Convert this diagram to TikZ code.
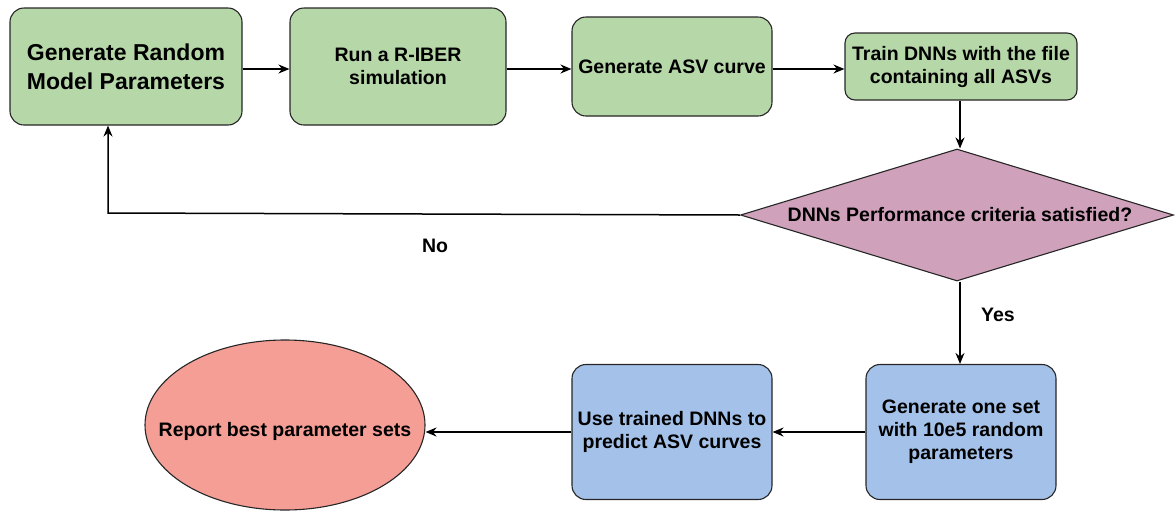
\documentclass[tikz,border=0pt]{standalone}
\usepackage{fontspec}
\setmainfont{Liberation Sans}
\usetikzlibrary{shapes.geometric,arrows.meta}
\definecolor{gfill}{RGB}{182,215,168}
\definecolor{pfill}{RGB}{207,161,187}
\definecolor{bfill}{RGB}{164,194,233}
\definecolor{rfill}{RGB}{244,158,150}
\tikzset{
  txt/.style={font=\bfseries\fontsize{19.5}{23}\selectfont},
  box/.style={draw=black!85, line width=1.1pt, rounded corners=14pt, align=center, txt, inner sep=0pt},
  gbox/.style={box, fill=gfill},
  bbox/.style={box, fill=bfill},
  arr/.style={-{Stealth[length=11pt,width=9pt]}, line width=1.5pt},
  lbl/.style={txt}
}
\begin{document}
\begin{tikzpicture}[x=1pt,y=-1pt]
\useasboundingbox (0,0) rectangle (1176,515);
\node[gbox, minimum width=232pt, minimum height=117pt, font=\bfseries\fontsize{23}{29}\selectfont] (b1) at (126,66.5) {Generate Random\\Model Parameters};
\node[gbox, minimum width=216pt, minimum height=117pt] (b2) at (398,66.5) {Run a R-IBER\\simulation};
\node[gbox, minimum width=200pt, minimum height=99pt] (b3) at (672,66.5) {Generate ASV curve};
\node[gbox, minimum width=232pt, minimum height=67pt, rounded corners=10pt] (b4) at (961,66.5) {Train DNNs with the file\\containing all ASVs};
\node[diamond, draw=black!85, line width=1.1pt, fill=pfill, minimum width=433pt, minimum height=132pt, inner sep=0pt, aspect=3.3] (d) at (957,215) {};
\node[txt] (dt) at (960,215) {DNNs Performance criteria satisfied?};
\node[bbox, minimum width=190pt, minimum height=135pt] (b5) at (961,432) {Generate one set\\with 10e5 random\\parameters};
\node[bbox, minimum width=200pt, minimum height=135pt] (b6) at (672,432) {Use trained DNNs to\\predict ASV curves};
\node[ellipse, draw=black!85, line width=1.1pt, fill=rfill, minimum width=280pt, minimum height=170pt, inner sep=0pt] (e) at (285,425) {};
\node[txt] (et) at (285,431) {Report best parameter sets};
\coordinate (c1) at (108,213);
\draw[arr] (b1.east|-0,69) -- (b2.west|-0,69);
\draw[arr] (b2.east|-0,69) -- (b3.west|-0,69);
\draw[arr] (b3.east|-0,69) -- (b4.west|-0,69);
\draw[arr] (b4.south-|960,0) -- (d.north-|960,0);
\draw[arr] (d.west) -- (c1) -- (c1|-b1.south);
\draw[arr] (d.south-|960,0) -- (b5.north-|960,0);
\draw[arr] (b5.west|-0,432) -- (b6.east|-0,432);
\draw[arr] (b6.west|-0,432) -- (e.east|-0,432);
\node[lbl] (no) at (435,246) {No};
\node[lbl] (yes) at (998,315) {Yes};
\end{tikzpicture}
\end{document}
